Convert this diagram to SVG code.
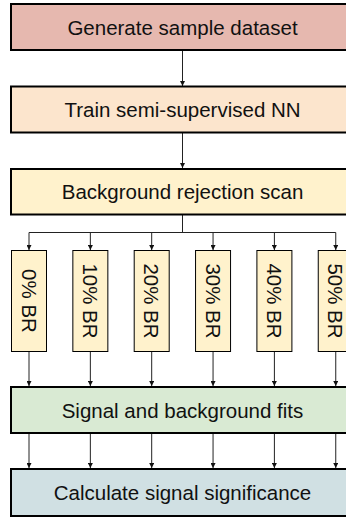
<svg xmlns="http://www.w3.org/2000/svg" width="346" height="518" viewBox="0 0 346 518">
<defs>
<style>
.main{stroke:#000;stroke-width:2}
.small{fill:#fff2cc;stroke:#000;stroke-width:1}
.t{font-family:"Liberation Sans",Arial,sans-serif;font-size:20.5px;fill:#111;text-anchor:middle}
.c{fill:none;stroke:#222;stroke-width:1}
</style>
<marker id="ah" markerWidth="5" markerHeight="5" refX="5" refY="2.5" orient="auto" markerUnits="userSpaceOnUse">
<path d="M0,0 L5,2.5 L0,5 Z" fill="#111"/>
</marker>
</defs>
<rect width="346" height="518" fill="#fff"/>
<g id="connectors">
<path class="c" d="M182.5,51 V86" marker-end="url(#ah)"/>
<path class="c" d="M182.5,133 V168" marker-end="url(#ah)"/>
<path class="c" d="M182.5,215 V232.5 M29,232.5 H335.75"/>
<path class="c" d="M29,232.5 V250" marker-end="url(#ah)"/>
<path class="c" d="M90.35,232.5 V250" marker-end="url(#ah)"/>
<path class="c" d="M151.7,232.5 V250" marker-end="url(#ah)"/>
<path class="c" d="M213.05,232.5 V250" marker-end="url(#ah)"/>
<path class="c" d="M274.4,232.5 V250" marker-end="url(#ah)"/>
<path class="c" d="M335.75,232.5 V250" marker-end="url(#ah)"/>
<path class="c" d="M29,352 V386" marker-end="url(#ah)"/>
<path class="c" d="M90.35,352 V386" marker-end="url(#ah)"/>
<path class="c" d="M151.7,352 V386" marker-end="url(#ah)"/>
<path class="c" d="M213.05,352 V386" marker-end="url(#ah)"/>
<path class="c" d="M274.4,352 V386" marker-end="url(#ah)"/>
<path class="c" d="M335.75,352 V386" marker-end="url(#ah)"/>
<path class="c" d="M29,434 V468" marker-end="url(#ah)"/>
<path class="c" d="M90.35,434 V468" marker-end="url(#ah)"/>
<path class="c" d="M151.7,434 V468" marker-end="url(#ah)"/>
<path class="c" d="M213.05,434 V468" marker-end="url(#ah)"/>
<path class="c" d="M274.4,434 V468" marker-end="url(#ah)"/>
<path class="c" d="M335.75,434 V468" marker-end="url(#ah)"/>
</g>
<g id="generate">
<rect class="main" x="11" y="4" width="343" height="46" fill="#e6b8af"/>
<text class="t" x="182.5" y="34.5">Generate sample dataset</text>
</g>
<g id="train">
<rect class="main" x="11" y="86.5" width="343" height="46" fill="#fce5cd"/>
<text class="t" x="182.5" y="117">Train semi-supervised NN</text>
</g>
<g id="scan">
<rect class="main" x="11" y="169" width="343" height="45.5" fill="#fff2cc"/>
<text class="t" x="182.5" y="199">Background rejection scan</text>
</g>
<g id="br0">
<rect class="small" x="11.5" y="250.5" width="35" height="101"/>
<text class="t" transform="translate(29,301) rotate(90)" y="7.3">0% BR</text>
</g>
<g id="br10">
<rect class="small" x="72.85" y="250.5" width="35" height="101"/>
<text class="t" transform="translate(90.35,301) rotate(90)" y="7.3">10% BR</text>
</g>
<g id="br20">
<rect class="small" x="134.2" y="250.5" width="35" height="101"/>
<text class="t" transform="translate(151.7,301) rotate(90)" y="7.3">20% BR</text>
</g>
<g id="br30">
<rect class="small" x="195.55" y="250.5" width="35" height="101"/>
<text class="t" transform="translate(213.05,301) rotate(90)" y="7.3">30% BR</text>
</g>
<g id="br40">
<rect class="small" x="256.9" y="250.5" width="35" height="101"/>
<text class="t" transform="translate(274.4,301) rotate(90)" y="7.3">40% BR</text>
</g>
<g id="br50">
<rect class="small" x="318.25" y="250.5" width="35" height="101"/>
<text class="t" transform="translate(335.75,301) rotate(90)" y="7.3">50% BR</text>
</g>
<g id="fits">
<rect class="main" x="11" y="387" width="343" height="46" fill="#d9ead3"/>
<text class="t" x="182.5" y="417.5">Signal and background fits</text>
</g>
<g id="significance">
<rect class="main" x="11" y="469" width="343" height="47" fill="#d0e0e3"/>
<text class="t" x="182.5" y="500">Calculate signal significance</text>
</g>
</svg>
